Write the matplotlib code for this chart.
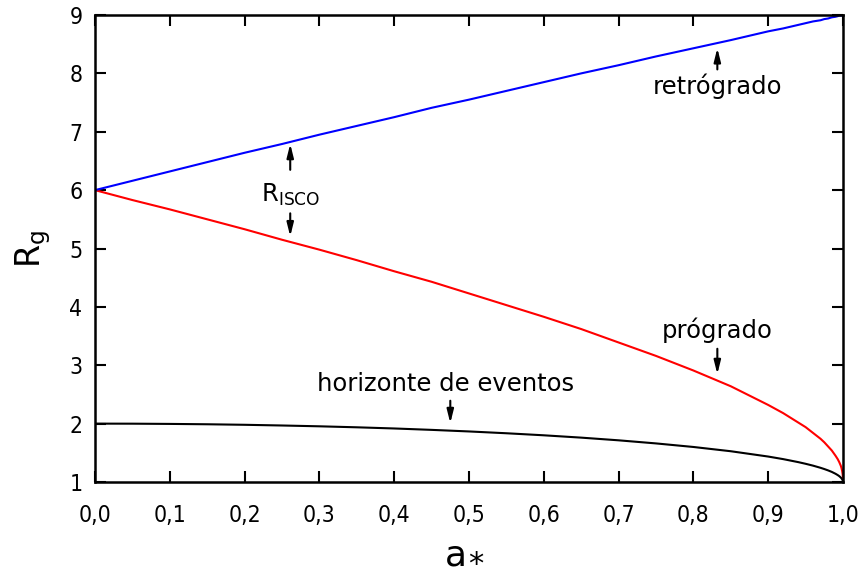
import matplotlib
matplotlib.use("Agg")
from matplotlib import pyplot as plt

plt.rcParams["mathtext.default"] = "regular"

# ------------------------------------------------------------------------ DATA
# values
spin = [0.0, 0.05, 0.1, 0.15, 0.2, 0.25, 0.3, 0.35, 0.4, 0.45, 0.5, 0.55, 0.6,
        0.65, 0.7, 0.75, 0.8, 0.85, 0.9, 0.92, 0.94, 0.95, 0.96, 0.97, 0.975,
        0.98, 0.985, 0.99, 0.993, 0.995, 0.997, 0.998, 0.999, 0.9995, 1.0]
r_prograde = [6.0, 5.83, 5.67, 5.50, 5.33, 5.15, 4.98, 4.80, 4.61, 4.43, 4.23,
              4.03, 3.83, 3.62, 3.39, 3.16, 2.91, 2.64, 2.32, 2.18, 2.02, 1.94,
              1.84, 1.74, 1.68, 1.61, 1.54, 1.45, 1.39, 1.34, 1.28, 1.24, 1.18,
              1.14, 1.08]
r_retrograde = [6.0, 6.16, 6.32, 6.48, 6.64, 6.79, 6.95, 7.10, 7.25, 7.41,
                7.55, 7.70, 7.85, 8.00, 8.14, 8.29, 8.43, 8.57, 8.72, 8.77,
                8.83, 8.86, 8.89, 8.91, 8.93, 8.94, 8.96, 8.97, 8.98, 8.99,
                8.99, 8.99, 9.0, 9.0, 9.0]
r_horizon = [2.0, 1.999, 1.995, 1.989, 1.98, 1.968, 1.954, 1.937, 1.917, 1.893,
             1.866, 1.835, 1.80, 1.76, 1.714, 1.661, 1.60, 1.527, 1.436, 1.392,
             1.341, 1.312, 1.280, 1.243, 1.222, 1.199, 1.173, 1.141, 1.118,
             1.10, 1.077, 1.063, 1.045, 1.032, 1.0]

xticks = [0.0, 0.1, 0.2, 0.3, 0.4, 0.5, 0.6, 0.7, 0.8, 0.9, 1.0]
yticks = [1, 2, 3, 4, 5, 6, 7, 8, 9]

# ------------------------------------------------------------------------ PLOT
fig = plt.figure(figsize=(8.61, 5.73), dpi=100)
ax = fig.add_axes([95 / 861, 1 - 482 / 573, 748 / 861, 467 / 573])

ax.plot(spin, r_horizon, color="black", lw=1.5)
ax.plot(spin, r_prograde, color="red", lw=1.5)
ax.plot(spin, r_retrograde, color="blue", lw=1.5)

ax.set_xlim(0, 1)
ax.set_ylim(1, 9)
ax.set_xticks(xticks)
ax.set_xticklabels([f"{t:.1f}".replace(".", ",") for t in xticks],
                   fontfamily="DejaVu Sans", fontstretch="condensed", fontsize=16.5)
ax.set_yticks(yticks)
ax.set_yticklabels([str(t) for t in yticks], fontfamily="DejaVu Sans",
                   fontstretch="condensed", fontsize=16.5)
ax.tick_params(direction="in", top=True, right=True, length=8, width=1.5)
ax.tick_params(axis="x", pad=16)
ax.tick_params(axis="y", pad=9)
for sp in ax.spines.values():
    sp.set_linewidth(1.8)

ax.set_ylabel(r"R$_g$", fontsize=24, labelpad=12)
# x label: "a" with a low asterisk as subscript
fig.text(456 / 861, 1 - 555 / 573, "a", fontsize=26, ha="center", va="center")
fig.text(476 / 861, 1 - 564 / 573, "\u204e", fontsize=22, ha="center", va="baseline")

arrow = dict(arrowstyle="-|>,head_width=0.2,head_length=0.8", color="black", lw=1.5)
fs = 17.5

# R_ISCO
ax.text(0.261, 5.92, r"R$_{ISCO}$", fontsize=fs, ha="center", va="center")
ax.annotate("", xy=(0.261, 6.84), xytext=(0.261, 6.3), arrowprops=arrow)
ax.annotate("", xy=(0.261, 5.16), xytext=(0.261, 5.65), arrowprops=arrow)

# retrograde
ax.text(0.832, 7.78, "retrógrado", fontsize=fs, ha="center", va="center")
ax.annotate("", xy=(0.832, 8.48), xytext=(0.832, 8.02), arrowprops=arrow)

# prograde
ax.text(0.832, 3.6, "prógrado", fontsize=fs, ha="center", va="center")
ax.annotate("", xy=(0.832, 2.8), xytext=(0.832, 3.33), arrowprops=arrow)

# horizon
ax.text(0.468, 2.68, "horizonte de eventos", fontsize=fs, ha="center", va="center")
ax.annotate("", xy=(0.475, 1.96), xytext=(0.475, 2.44), arrowprops=arrow)

fig.savefig("out.png", dpi=100)
